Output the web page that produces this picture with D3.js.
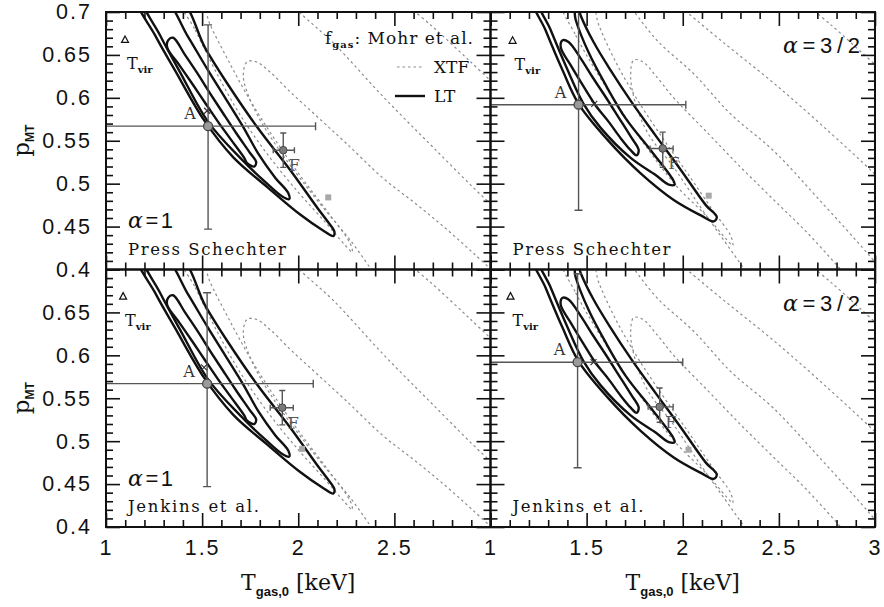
<!DOCTYPE html>
<html><head><meta charset="utf-8">
<script src="https://cdn.jsdelivr.net/npm/d3@7"></script>
<style>body{margin:0;background:#fff}svg{display:block}</style>
</head><body>
<svg id="c" width="884" height="607"></svg>
<script>
// ---------------- data ----------------
const xDomain = [1, 3];
const yDomain = [0.4, 0.7];
const xMajor = [1, 1.5, 2, 2.5, 3];
const xTickLabels = ["1", "1.5", "2", "2.5", "3"];
const yMajor = [0.4, 0.45, 0.5, 0.55, 0.6, 0.65, 0.7];
const yTickLabels = ["0.4", "0.45", "0.5", "0.55", "0.6", "0.65", "0.7"];

// panels: TL, TR, BL, BR
const alphaLabels = ["α=1", "α=3/2", "α=1", "α=3/2"];
const massFunctions = ["Press Schechter", "Press Schechter", "Jenkins et al.", "Jenkins et al."];
const panelAlpha = [0, 1, 0, 1];

// point A with large error bars
const pointA = [[1.531, 0.567], [1.458, 0.592], [1.526, 0.567], [1.453, 0.592]];
const errAT = [[1.0, 2.09], [0.98, 2.016], [1.0, 2.078], [0.98, 2.0]];
const errAp = [[0.447, 0.685], [0.469, 0.70], [0.447, 0.673], [0.469, 0.695]];
// cross marker near A
const pointX = [[1.526, 0.585], [1.54, 0.593], [1.51, 0.586], [1.536, 0.592]];
// point F with error bars
const pointF = [[1.922, 0.539], [1.896, 0.541], [1.917, 0.539], [1.88, 0.54]];
const errFT = [[1.87, 1.98], [1.83, 1.95], [1.854, 1.974], [1.82, 1.95]];
const errFp = [[0.519, 0.559], [0.519, 0.56], [0.519, 0.559], [0.522, 0.562]];
// grey square marker
const greySquare = [[2.156, 0.484], [2.135, 0.486], [2.02, 0.491], [2.03, 0.49]];
// T_vir triangle
const tvirPoint = [[1.099, 0.668], [1.115, 0.667], [1.089, 0.669], [1.104, 0.669]];

// LT likelihood contours (solid), alpha = 1
const ltA1Inner = [[1.349,0.670],[1.411,0.650],[1.474,0.629],[1.542,0.605],[1.609,0.582],[1.677,0.559],[1.745,0.537],[1.781,0.525],[1.771,0.520],[1.734,0.524],[1.719,0.530],[1.651,0.551],[1.583,0.572],[1.516,0.594],[1.453,0.615],[1.385,0.637],[1.318,0.659],[1.323,0.667]];
const ltA1Mid = [[1.193,0.714],[1.281,0.673],[1.385,0.630],[1.531,0.572],[1.698,0.530],[1.828,0.502],[1.917,0.485],[1.953,0.482],[1.948,0.489],[1.880,0.507],[1.792,0.535],[1.714,0.566],[1.620,0.600],[1.531,0.632],[1.427,0.671],[1.307,0.714]];
const ltA1Outer = [[1.167,0.714],[1.255,0.673],[1.359,0.632],[1.510,0.574],[1.661,0.531],[1.839,0.496],[2.010,0.464],[2.125,0.446],[2.182,0.439],[2.188,0.444],[2.156,0.455],[2.099,0.472],[1.958,0.516],[1.786,0.566],[1.630,0.617],[1.516,0.658],[1.385,0.714]];
// LT contours, alpha = 3/2
const ltA2Inner = [[1.375,0.667],[1.406,0.665],[1.469,0.646],[1.531,0.624],[1.599,0.601],[1.667,0.577],[1.729,0.555],[1.771,0.539],[1.760,0.533],[1.729,0.539],[1.677,0.553],[1.615,0.572],[1.547,0.591],[1.479,0.615],[1.417,0.638],[1.365,0.659]];
const ltA2Mid = [[1.250,0.714],[1.313,0.679],[1.396,0.635],[1.484,0.593],[1.573,0.565],[1.729,0.530],[1.859,0.510],[1.927,0.499],[1.958,0.499],[1.948,0.505],[1.833,0.539],[1.703,0.576],[1.599,0.615],[1.510,0.653],[1.443,0.691],[1.422,0.714]];
const ltA2Outer = [[1.224,0.714],[1.286,0.679],[1.375,0.632],[1.458,0.593],[1.609,0.551],[1.781,0.512],[1.953,0.481],[2.094,0.463],[2.161,0.456],[2.177,0.461],[2.120,0.475],[1.990,0.516],[1.859,0.556],[1.734,0.595],[1.625,0.632],[1.536,0.665],[1.469,0.696],[1.443,0.714]];

// XTF likelihood contours (grey dotted), alpha = 1
const xtfA1Inner = [[1.385,0.714],[1.464,0.679],[1.568,0.632],[1.698,0.580],[1.844,0.533],[2.000,0.490],[2.141,0.455],[2.245,0.428],[2.281,0.420],[2.271,0.430],[2.167,0.463],[2.021,0.506],[1.880,0.551],[1.750,0.597],[1.635,0.644],[1.542,0.685],[1.490,0.714]];
const xtfA1Tongue = [[2.401,0.393],[2.271,0.434],[2.141,0.469],[2.010,0.506],[1.896,0.541],[1.802,0.574],[1.740,0.603],[1.714,0.626],[1.734,0.642],[1.781,0.642],[1.854,0.630],[1.958,0.607],[2.089,0.580],[2.245,0.548],[2.443,0.506],[2.609,0.477],[2.766,0.448],[2.911,0.419],[3.052,0.390]];
const xtfA1Line1 = [[1.948,0.714],[2.010,0.699],[2.182,0.664],[2.443,0.601],[2.703,0.542],[2.964,0.484],[3.052,0.467]];
const xtfA1Line2 = [[2.531,0.714],[2.688,0.685],[2.896,0.642],[3.052,0.609]];
// XTF contours, alpha = 3/2
const xtfA2Inner = [[1.365,0.714],[1.443,0.673],[1.547,0.632],[1.677,0.586],[1.823,0.539],[1.964,0.498],[2.120,0.463],[2.224,0.436],[2.260,0.428],[2.250,0.439],[2.156,0.469],[2.031,0.510],[1.896,0.553],[1.766,0.597],[1.651,0.642],[1.563,0.685],[1.521,0.714]];
const xtfA2Tongue = [[2.344,0.393],[2.214,0.434],[2.094,0.472],[1.953,0.519],[1.818,0.559],[1.750,0.597],[1.729,0.626],[1.745,0.644],[1.792,0.642],[1.859,0.626],[1.953,0.600],[2.130,0.559],[2.302,0.519],[2.474,0.481],[2.651,0.442],[2.849,0.393]];
const xtfA2Line1 = [[1.703,0.714],[1.745,0.701],[1.870,0.666],[2.057,0.628],[2.250,0.581],[2.474,0.538],[2.703,0.483],[2.964,0.418],[3.057,0.393]];
const xtfA2Line2 = [[1.948,0.714],[2.026,0.699],[2.214,0.664],[2.474,0.617],[2.734,0.566],[2.995,0.512],[3.083,0.492]];
const xtfA2Line3 = [[2.615,0.714],[2.771,0.685],[3.005,0.638],[3.1,0.62]];

const ltContours = [[ltA1Inner, ltA1Mid, ltA1Outer], [ltA2Inner, ltA2Mid, ltA2Outer]];
const xtfClosed = [[xtfA1Inner], [xtfA2Inner]];
const xtfOpen = [[xtfA1Tongue, xtfA1Line1, xtfA1Line2], [xtfA2Tongue, xtfA2Line1, xtfA2Line2, xtfA2Line3]];

// ---------------- drawing ----------------
const svg = d3.select("#c");
const geo = {x0: 106, y0: 12, w: 384.5, h: 257.5};
const SERIF = "'DejaVu Serif', 'Liberation Serif', serif";
const SANS = "'Liberation Sans', Arial, sans-serif";
const defs = svg.append("defs");

[0, 1, 2, 3].forEach(i => {
  const col = i % 2, row = Math.floor(i / 2);
  const gx = geo.x0 + col * geo.w, gy = geo.y0 + row * geo.h;
  const x = d3.scaleLinear().domain(xDomain).range([0, geo.w]);
  const y = d3.scaleLinear().domain(yDomain).range([geo.h, 0]);
  const g = svg.append("g").attr("transform", `translate(${gx},${gy})`);
  defs.append("clipPath").attr("id", "clip" + i)
    .append("rect").attr("width", geo.w).attr("height", geo.h);
  const pg = g.append("g").attr("clip-path", `url(#clip${i})`);
  const a = panelAlpha[i];

  const lineClosed = d3.line().x(d => x(d[0])).y(d => y(d[1])).curve(d3.curveCatmullRomClosed.alpha(0.5));
  const lineOpen = d3.line().x(d => x(d[0])).y(d => y(d[1])).curve(d3.curveCatmullRom.alpha(0.5));

  // XTF dotted grey
  xtfClosed[a].forEach(c => pg.append("path").attr("d", lineClosed(c))
    .attr("fill", "none").attr("stroke", "#8c8c8c").attr("stroke-width", 1.2).attr("stroke-dasharray", "2.5,3"));
  xtfOpen[a].forEach(c => pg.append("path").attr("d", lineOpen(c))
    .attr("fill", "none").attr("stroke", "#8c8c8c").attr("stroke-width", 1.2).attr("stroke-dasharray", "2.5,3"));

  // LT solid black
  ltContours[a].forEach(c => pg.append("path").attr("d", lineClosed(c))
    .attr("fill", "none").attr("stroke", "#111").attr("stroke-width", 2.4));

  // error bars A
  const eb = pg.append("g").attr("stroke", "#555").attr("stroke-width", 1.4);
  const [ax, ay] = pointA[i];
  eb.append("line").attr("x1", x(errAT[i][0])).attr("x2", x(errAT[i][1])).attr("y1", y(ay)).attr("y2", y(ay));
  eb.append("line").attr("x1", x(errAT[i][1])).attr("x2", x(errAT[i][1])).attr("y1", y(ay) - 4).attr("y2", y(ay) + 4);
  eb.append("line").attr("x1", x(ax)).attr("x2", x(ax)).attr("y1", y(errAp[i][0])).attr("y2", y(errAp[i][1]));
  eb.append("line").attr("x1", x(ax) - 4).attr("x2", x(ax) + 4).attr("y1", y(errAp[i][0])).attr("y2", y(errAp[i][0]));
  eb.append("line").attr("x1", x(ax) - 4).attr("x2", x(ax) + 4).attr("y1", y(errAp[i][1])).attr("y2", y(errAp[i][1]));
  pg.append("circle").attr("cx", x(ax)).attr("cy", y(ay)).attr("r", 4.5)
    .attr("fill", "#9a9a9a").attr("stroke", "#444").attr("stroke-width", 1.3);
  pg.append("text").attr("x", x(ax) - 18).attr("y", y(ay) - 7).attr("text-anchor", "middle")
    .attr("font-family", SERIF).attr("font-size", 16).attr("fill", "#333").text("A");

  // cross marker
  const [cx, cy] = pointX[i];
  pg.append("path").attr("d", `M${x(cx)-3},${y(cy)-3}L${x(cx)+3},${y(cy)+3}M${x(cx)-3},${y(cy)+3}L${x(cx)+3},${y(cy)-3}`)
    .attr("stroke", "#333").attr("stroke-width", 1.2);

  // F point
  const [fx, fy] = pointF[i];
  const fb = pg.append("g").attr("stroke", "#555").attr("stroke-width", 1.4);
  fb.append("line").attr("x1", x(errFT[i][0])).attr("x2", x(errFT[i][1])).attr("y1", y(fy)).attr("y2", y(fy));
  fb.append("line").attr("x1", x(fx)).attr("x2", x(fx)).attr("y1", y(errFp[i][0])).attr("y2", y(errFp[i][1]));
  [errFT[i][0], errFT[i][1]].forEach(v => fb.append("line").attr("x1", x(v)).attr("x2", x(v)).attr("y1", y(fy) - 3).attr("y2", y(fy) + 3));
  [errFp[i][0], errFp[i][1]].forEach(v => fb.append("line").attr("x1", x(fx) - 3).attr("x2", x(fx) + 3).attr("y1", y(v)).attr("y2", y(v)));
  pg.append("circle").attr("cx", x(fx)).attr("cy", y(fy)).attr("r", 3.8)
    .attr("fill", "#7a7a7a").attr("stroke", "#444").attr("stroke-width", 1);
  pg.append("text").attr("x", x(fx) + 11).attr("y", y(fy) + 21).attr("text-anchor", "middle")
    .attr("font-family", SERIF).attr("font-size", 16).attr("fill", "#555").text("F");

  // grey square
  const [sx, sy] = greySquare[i];
  pg.append("rect").attr("x", x(sx) - 3).attr("y", y(sy) - 3).attr("width", 6).attr("height", 6).attr("fill", "#a8a8a8");

  // T_vir triangle + label
  const [tx, ty] = tvirPoint[i];
  pg.append("path").attr("d", `M${x(tx)},${y(ty)-3.5}L${x(tx)+3.5},${y(ty)+3}L${x(tx)-3.5},${y(ty)+3}Z`)
    .attr("fill", "none").attr("stroke", "#111").attr("stroke-width", 1.2);
  const tv = pg.append("text").attr("x", x(tx) + 2).attr("y", y(ty) + 30)
    .attr("font-family", SERIF).attr("font-size", 16).attr("fill", "#111");
  tv.append("tspan").text("T");
  tv.append("tspan").attr("dy", 4).attr("font-size", 10).attr("font-weight", "bold").text("vir");

  // panel labels
  const alphaTxt = g.append("text").attr("font-family", SANS).attr("font-size", 22).attr("fill", "#111")
    .attr("lengthAdjust", "spacing");
  if (a === 0) alphaTxt.attr("x", 22).attr("y", 216).attr("textLength", 45);
  else alphaTxt.attr("x", geo.w - 92).attr("y", 41).attr("textLength", 77);
  alphaTxt.append("tspan").attr("font-family", SERIF).attr("font-style", "italic").text(alphaLabels[i].slice(0, 1));
  alphaTxt.append("tspan").text(alphaLabels[i].slice(1));
  g.append("text").attr("x", 22).attr("y", geo.h - 15)
    .attr("font-family", SERIF).attr("font-size", 16.5).attr("fill", "#111")
    .attr("textLength", massFunctions[i] === "Press Schechter" ? 158 : 131).attr("lengthAdjust", "spacing")
    .text(massFunctions[i]);

  // axes: ticks on all four sides, pointing inward
  const showXLab = row === 1, showYLab = col === 0;
  const xMinor = d3.range(1.1, 3.0, 0.1).filter(v => Math.abs(v * 2 - Math.round(v * 2)) > 1e-6);
  const yMinor = d3.range(0.41, 0.7, 0.01).filter(v => Math.abs(v * 20 - Math.round(v * 20)) > 1e-6);
  const fmtX = (d, k) => (showXLab && !(col === 0 && k === 4)) ? xTickLabels[k] : "";
  const fmtY = (d, k) => (showYLab && !(row === 1 && k === 6)) ? yTickLabels[k] : "";
  const axG = g.append("g");
  const addAxis = (gen, tr) => {
    const s = axG.append("g").attr("transform", tr).call(gen);
    s.select(".domain").remove();
    s.selectAll("line").attr("stroke", "#111").attr("stroke-width", 1.6);
    s.selectAll("text").attr("font-family", SANS).attr("font-size", 21.5).attr("fill", "#111").attr("letter-spacing", 2);
    return s;
  };
  addAxis(d3.axisBottom(x).tickValues(xMajor).tickSize(-14).tickPadding(13).tickFormat(fmtX), `translate(0,${geo.h})`);
  addAxis(d3.axisBottom(x).tickValues(xMinor).tickSize(-7).tickFormat(""), `translate(0,${geo.h})`);
  addAxis(d3.axisTop(x).tickValues(xMajor).tickSize(-14).tickFormat(""), "translate(0,0)");
  addAxis(d3.axisTop(x).tickValues(xMinor).tickSize(-7).tickFormat(""), "translate(0,0)");
  addAxis(d3.axisLeft(y).tickValues(yMajor).tickSize(-14).tickPadding(14).tickFormat(fmtY), "translate(0,0)");
  addAxis(d3.axisLeft(y).tickValues(yMinor).tickSize(-7).tickFormat(""), "translate(0,0)");
  addAxis(d3.axisRight(y).tickValues(yMajor).tickSize(-14).tickFormat(""), `translate(${geo.w},0)`);
  addAxis(d3.axisRight(y).tickValues(yMinor).tickSize(-7).tickFormat(""), `translate(${geo.w},0)`);
  g.append("rect").attr("width", geo.w).attr("height", geo.h).attr("fill", "none")
    .attr("stroke", "#111").attr("stroke-width", 2);

  // legend (top-left panel only)
  if (i === 0) {
    const lg = g.append("g");
    const ft = lg.append("text").attr("x", 219).attr("y", 32).attr("font-family", SERIF).attr("font-size", 17).attr("fill", "#111")
      .attr("textLength", 148).attr("lengthAdjust", "spacing");
    ft.append("tspan").text("f");
    ft.append("tspan").attr("dy", 4).attr("font-size", 10).attr("font-weight", "bold").text("gas");
    ft.append("tspan").attr("dy", -4).text(": Mohr et al.");
    lg.append("line").attr("x1", 291).attr("x2", 316).attr("y1", 55).attr("y2", 55)
      .attr("stroke", "#8c8c8c").attr("stroke-width", 1.2).attr("stroke-dasharray", "2.5,3");
    lg.append("text").attr("x", 328).attr("y", 61).attr("font-family", SERIF).attr("font-size", 17).attr("fill", "#111").text("XTF");
    lg.append("line").attr("x1", 289).attr("x2", 319).attr("y1", 84).attr("y2", 84)
      .attr("stroke", "#111").attr("stroke-width", 2.4);
    lg.append("text").attr("x", 328).attr("y", 90).attr("font-family", SERIF).attr("font-size", 17).attr("fill", "#111").text("LT");
  }
});

// axis titles
[0, 1].forEach(col => {
  const t = svg.append("text").attr("x", geo.x0 + col * geo.w + geo.w / 2).attr("y", 590)
    .attr("text-anchor", "middle").attr("font-family", SERIF).attr("font-size", 22).attr("fill", "#111");
  t.append("tspan").text("T");
  t.append("tspan").attr("dy", 6).attr("font-size", 13).attr("font-weight", "bold").attr("font-family", SANS).text("gas,0");
  t.append("tspan").attr("dy", -6).text(" [keV]");
});
[0, 1].forEach(row => {
  const cy = geo.y0 + row * geo.h + geo.h / 2;
  const t = svg.append("text").attr("transform", `translate(29,${cy}) rotate(-90)`)
    .attr("text-anchor", "middle").attr("font-family", SERIF).attr("font-size", 23).attr("fill", "#111");
  t.append("tspan").text("p");
  t.append("tspan").attr("dy", 5).attr("font-size", 12).attr("font-weight", "bold").attr("font-family", SANS).text("MT");
});
</script>
</body></html>
